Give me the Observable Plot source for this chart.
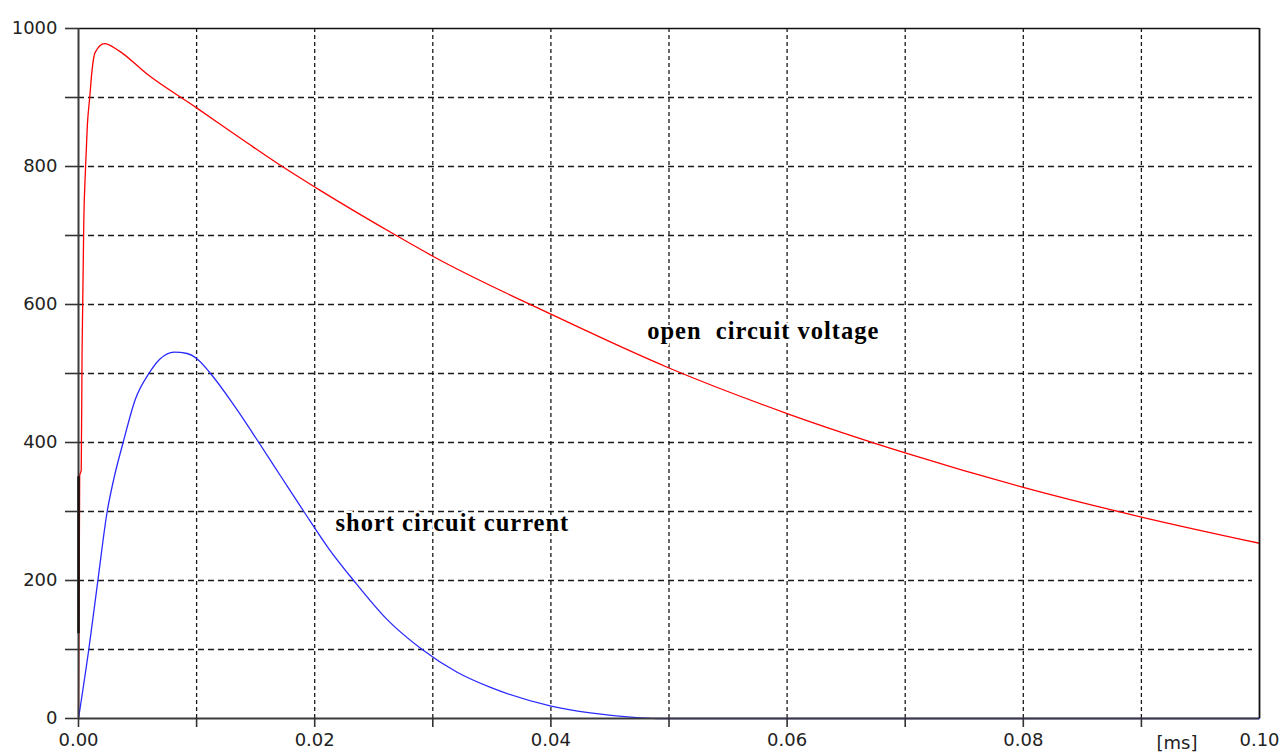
<!DOCTYPE html>
<html><head><meta charset="utf-8">
<script src="https://cdn.jsdelivr.net/npm/d3@7"></script>
<script src="https://cdn.jsdelivr.net/npm/@observablehq/plot@0.6"></script>
<style>
html,body{margin:0;padding:0;background:#fff;overflow:hidden;}
.curve-label text{letter-spacing:1px;}
</style></head><body><div id="chart"></div>
<script>
// time in ms
const tVoltage = [0, 0.0001, 0.00023, 0.0003, 0.00045, 0.0006, 0.00075, 0.00095, 0.00115, 0.0014, 0.0022, 0.0034, 0.0058, 0.01, 0.0143, 0.0168, 0.0205, 0.0268, 0.03, 0.04, 0.05, 0.06, 0.07, 0.08, 0.09, 0.1];
const vVoltage = [0, 352, 360, 529, 722, 800, 860, 900, 940, 965, 978, 968, 934, 885, 834, 805, 765, 701, 670, 586, 508, 442, 385, 335, 292, 254];

const tCurrent = [0, 0.00087, 0.00164, 0.00243, 0.0030, 0.00378, 0.0048, 0.00596, 0.0069, 0.0081, 0.0092, 0.01005, 0.01118, 0.0132, 0.01527, 0.01717, 0.01908, 0.0212, 0.0233, 0.0261, 0.0291, 0.03206, 0.03489, 0.04002, 0.04335, 0.04674, 0.049, 0.1];
const iCurrent = [0, 100, 200, 300, 348, 400, 462, 500, 521, 531, 529, 521, 500, 453, 400, 350, 300, 246, 200, 144, 100, 67, 45, 18, 8, 2, 0, 0];

// dark overdraw visible on the y axis near the start of the voltage trace
const tOverlay = [0, 0];
const vOverlay = [125, 350];

const xTicks = [0, 0.01, 0.02, 0.03, 0.04, 0.05, 0.06, 0.07, 0.08, 0.09];
const xTickLabels = [0, 0.02, 0.04, 0.06, 0.08, 0.10];
const xGrid = [0.01, 0.02, 0.03, 0.04, 0.05, 0.06, 0.07, 0.08, 0.09];
const yTicks = [0, 100, 200, 300, 400, 500, 600, 700, 800, 900, 1000];
const yTickLabels = [0, 200, 400, 600, 800, 1000];
const yGrid = [100, 200, 300, 400, 500, 600, 700, 800, 900];

const labelText = ["open\u00a0 circuit voltage", "short circuit current"];
const labelT = [0.04815, 0.02176];
const labelV = [562, 283];
const unitLabel = ["[ms]"];

const voltage = tVoltage.map((t, i) => ({t, v: vVoltage[i]}));
const current = tCurrent.map((t, i) => ({t, v: iCurrent[i]}));
const overlay = tOverlay.map((t, i) => ({t, v: vOverlay[i]}));
const labels = labelText.map((s, i) => ({s, t: labelT[i], v: labelV[i]}));

const plot = Plot.plot({
  width: 1281, height: 754,
  marginLeft: 78, marginRight: 22, marginTop: 28, marginBottom: 36,
  style: {fontFamily: "DejaVu Sans", fontSize: "18px", color: "#222", background: "#fff"},
  x: {domain: [0, 0.1]},
  y: {domain: [0, 1000]},
  marks: [
    Plot.ruleX(xGrid, {stroke: "#1a1a1a", strokeDasharray: "4,3", strokeWidth: 1.3}),
    Plot.ruleY(yGrid, {stroke: "#1a1a1a", strokeDasharray: "6,4", strokeWidth: 1.3, insetRight: 7}),
    Plot.line(voltage, {x: "t", y: "v", stroke: "#ff0000", strokeWidth: 1.3, curve: "monotone-x"}),
    Plot.line(current, {x: "t", y: "v", stroke: "#2a2aff", strokeWidth: 1.3, curve: "monotone-x"}),
    Plot.ruleX([0.1], {stroke: "#111", strokeWidth: 1.8}),
    Plot.ruleY([1000], {stroke: "#111", strokeWidth: 1.4}),
    Plot.ruleX([0], {stroke: "#3a3a3a", strokeWidth: 2}),
    Plot.ruleY([0], {stroke: "#3a3a3a", strokeWidth: 2}),
    Plot.line(overlay, {x: "t", y: "v", stroke: "#111", strokeWidth: 2.4}),
    // tick marks outside the frame
    Plot.ruleX(xTicks, {y1: () => 0, y2: () => 0, insetBottom: -9, stroke: "#333", strokeWidth: 1.6}),
    Plot.ruleY(yTicks, {x1: () => 0, x2: () => 0, insetLeft: -13, stroke: "#333", strokeWidth: 1.6}),
    // tick labels
    Plot.axisX({ticks: xTickLabels, tickSize: 0, tickPadding: 15, tickFormat: d => d.toFixed(2), label: null, fill: "#222"}),
    Plot.axisY({ticks: yTickLabels, tickSize: 0, tickPadding: 21, tickFormat: d => String(d), label: null, fill: "#222"}),
    Plot.text(labels, {x: "t", y: "v", text: "s", textAnchor: "start", lineAnchor: "middle",
      fontFamily: "Liberation Serif", fontWeight: "bold", fontSize: 24.5, fill: "#000",
      stroke: "white", strokeWidth: 4, className: "curve-label"}),
    Plot.text(unitLabel, {text: d => d, frameAnchor: "bottom-right", dx: -62, dy: 25, textAnchor: "end",
      lineAnchor: "middle", fontFamily: "DejaVu Sans", fontSize: 18, fill: "#222"})
  ]
});
document.getElementById("chart").appendChild(plot);
</script>
</body></html>
